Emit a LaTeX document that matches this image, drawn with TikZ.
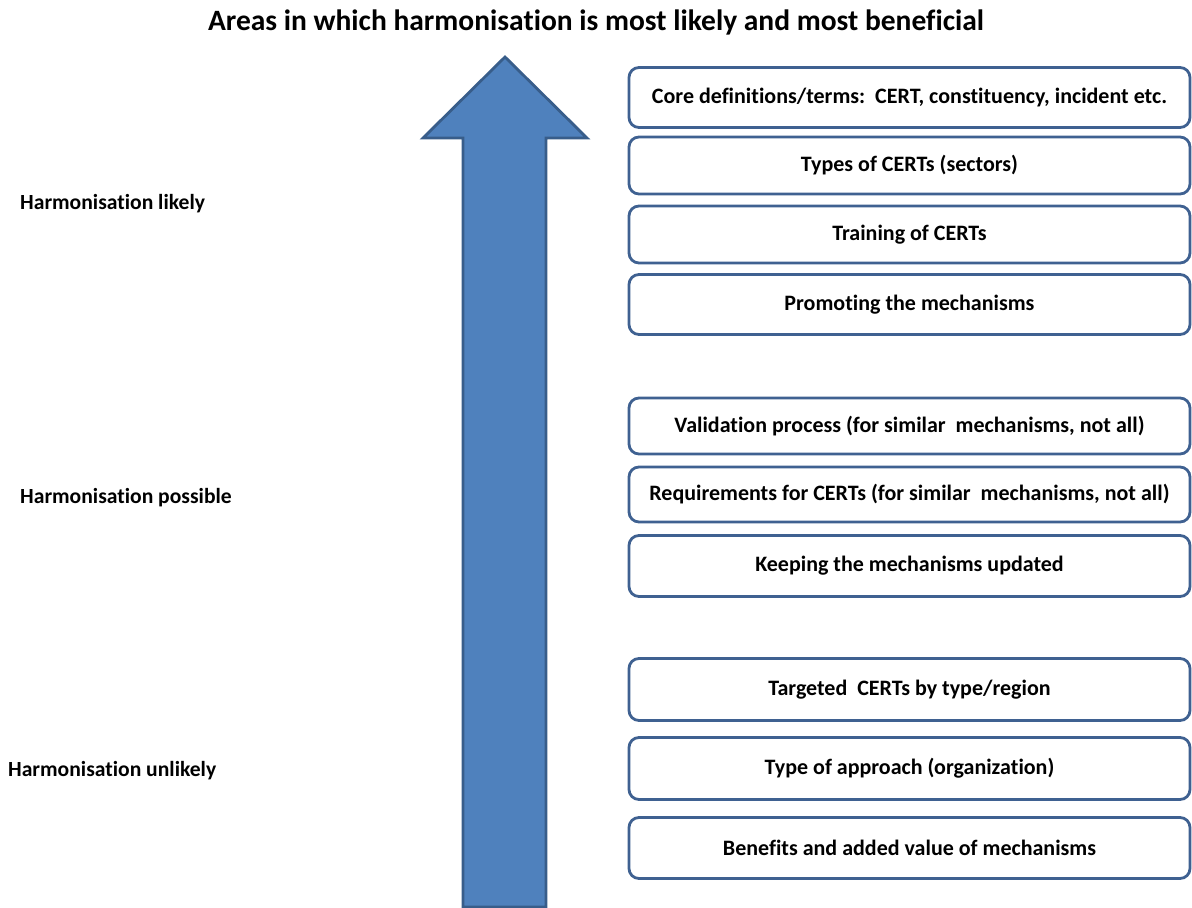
\documentclass[tikz,border=0pt]{standalone}
\usepackage{fontspec}
\setmainfont[Ligatures=NoCommon]{Carlito}
\begin{document}
\begin{tikzpicture}[x=1pt,y=-1pt,
  areabox/.style={draw=boxline, line width=2.8pt, fill=white, rounded corners=10pt,
    minimum width=561pt, minimum height=#1, inner sep=0pt,
    font=\bfseries\fontsize{22}{26}\selectfont},
  areabox/.default=58pt,
  sidelabel/.style={anchor=west, inner sep=0pt, font=\bfseries\fontsize{21.6}{25}\selectfont}]
\definecolor{arrowfill}{HTML}{4F81BD}
\definecolor{arrowline}{HTML}{385D8A}
\definecolor{boxline}{HTML}{3F6191}
\useasboundingbox (0,0) rectangle (1192,908);

% title
\node[font=\bfseries\fontsize{29.5}{34}\selectfont] (title) at (596,22)
  {Areas in which harmonisation is most likely and most beneficial};

% upward block arrow
\filldraw[fill=arrowfill, draw=arrowline, line width=2.8pt, line join=miter]
  (505,57) -- (587,138) -- (546,138) -- (546,907) -- (463,907)
  -- (463,138) -- (423,138) -- cycle;

% level labels
\node[sidelabel] (likely)   at (20,204) {Harmonisation likely};
\node[sidelabel] (possible) at (20,498) {Harmonisation possible};
\node[sidelabel] (unlikely) at (8,771)  {Harmonisation unlikely};

% area boxes
\node[areabox=60pt] (core)  at (909.5,97.5)  {Core definitions/terms:\ \ CERT, constituency, incident etc.};
\node[areabox=57pt] (types) at (909.5,165.5) {Types of CERTs (sectors)};
\node[areabox=57pt] (train) at (909.5,234.5) {Training of CERTs};
\node[areabox=60pt] (promo) at (909.5,304.5) {Promoting the mechanisms};

\node[areabox=56pt] (valid) at (909.5,426)   {Validation process (for similar\ \ mechanisms, not all)};
\node[areabox=55pt] (reqs)  at (909.5,494.5) {Requirements for CERTs (for similar\ \ mechanisms, not all)};
\node[areabox=61pt] (keep)  at (909.5,566)   {Keeping the mechanisms updated};

\node[areabox=62pt] (target) at (909.5,689.5) {Targeted\ \ CERTs by type/region};
\node[areabox=62pt] (appr)   at (909.5,768.5) {Type of approach (organization)};
\node[areabox=61pt] (bene)   at (909.5,848)   {Benefits and added value of mechanisms};
\end{tikzpicture}
\end{document}
